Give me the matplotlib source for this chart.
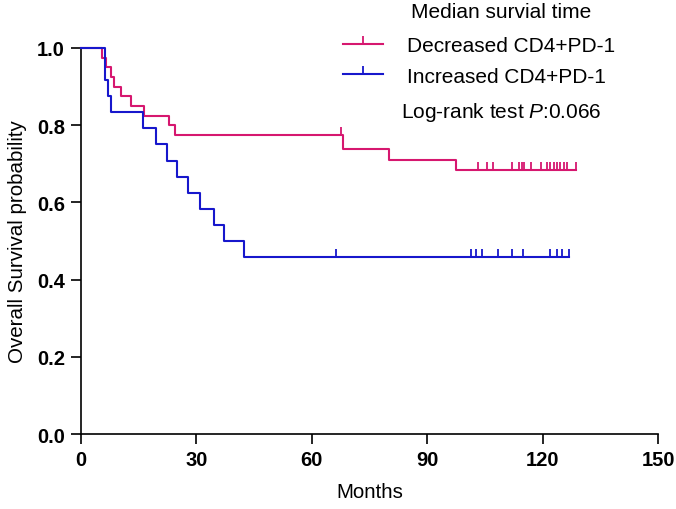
import matplotlib
matplotlib.use('Agg')
import matplotlib.pyplot as plt
from matplotlib.lines import Line2D

plt.rcParams['font.family'] = ['Liberation Sans', 'DejaVu Sans']
plt.rcParams['mathtext.fontset'] = 'custom'
plt.rcParams['mathtext.rm'] = 'Liberation Sans'
plt.rcParams['mathtext.it'] = 'Liberation Sans:italic'

# Kaplan-Meier steps (months, survival)
red_t = [0, 5.5, 6.5, 7.8, 8.6, 10.4, 13.0, 16.4, 23.0, 24.5, 68.2, 80.0, 97.4]
red_s = [1.0, 0.975, 0.95, 0.925, 0.90, 0.875, 0.85, 0.825, 0.80, 0.775, 0.738, 0.711, 0.684]
red_end = 128.6
red_cens = [67.5, 103.1, 105.5, 107, 112, 113.8, 114.6, 115.1, 116.9, 119.5,
            121.1, 121.9, 122.9, 123.7, 124.5, 125.5, 126.3, 128.6]

blue_t = [0, 6.2, 7.0, 7.8, 16.0, 19.5, 22.4, 25.0, 27.9, 31.0, 34.6, 37.2, 42.4]
blue_s = [1.0, 0.917, 0.875, 0.833, 0.792, 0.75, 0.708, 0.667, 0.625, 0.583, 0.542, 0.5, 0.458]
blue_end = 126.9
blue_cens = [66.4, 101.3, 102.7, 104.2, 108.5, 112, 115, 122, 123.7, 125, 126.9]

labels = ['Decreased CD4+PD-1', 'Increased CD4+PD-1']
colors = ['#D6176F', '#1717CC']

xticks = [0, 30, 60, 90, 120, 150]
yticks = [0.0, 0.2, 0.4, 0.6, 0.8, 1.0]


def surv_at(times, surv, t):
    val = surv[0]
    for ti, si in zip(times, surv):
        if ti <= t:
            val = si
    return val


fig = plt.figure(figsize=(6.76, 5.10), dpi=100)
ax = fig.add_axes([0.1198, 0.147, 0.8536, 0.757])

for times, surv, end, cens, col in [(red_t, red_s, red_end, red_cens, colors[0]),
                                    (blue_t, blue_s, blue_end, blue_cens, colors[1])]:
    ax.step(times + [end], surv + [surv[-1]], where='post', color=col, lw=1.5,
            clip_on=False, zorder=3)
    cy = [surv_at(times, surv, c) for c in cens]
    ax.plot(cens, cy, ls='none', marker=2, ms=5.5, mew=1.3, color=col,
            clip_on=False, zorder=3)

ax.set_xlim(0, 150)
ax.set_ylim(0, 1.0)
ax.set_xticks(xticks)
ax.set_yticks(yticks)
ax.set_yticklabels(['%.1f' % v for v in yticks])
ax.spines['top'].set_visible(False)
ax.spines['right'].set_visible(False)
for s in ['left', 'bottom']:
    ax.spines[s].set_linewidth(1.2)
ax.tick_params(direction='out', length=7.5, width=1.2, labelsize=14.5, pad=4)
for lab in ax.get_xticklabels() + ax.get_yticklabels():
    lab.set_fontweight('bold')

ax.set_xlabel('Months', fontsize=14.8, labelpad=9)
ax.set_ylabel('Overall Survival probability', fontsize=14.8, labelpad=7)

handles = [Line2D([], [], color=c, lw=1.5, marker=2, ms=5.5, mew=1.3) for c in colors]
fig.legend(handles, labels, loc='upper left', bbox_to_anchor=(0.5074, 0.927),
           frameon=False, fontsize=15, handlelength=1.92, handletextpad=1.15,
           labelspacing=0.55, borderpad=0, borderaxespad=0)
fig.text(0.741, 0.976, 'Median survial time', ha='center', va='center', fontsize=15)
fig.text(0.741, 0.78, r'Log-rank test $\mathit{P}$:0.066', ha='center', va='center',
         fontsize=15)

fig.savefig('out.png', dpi=100)
